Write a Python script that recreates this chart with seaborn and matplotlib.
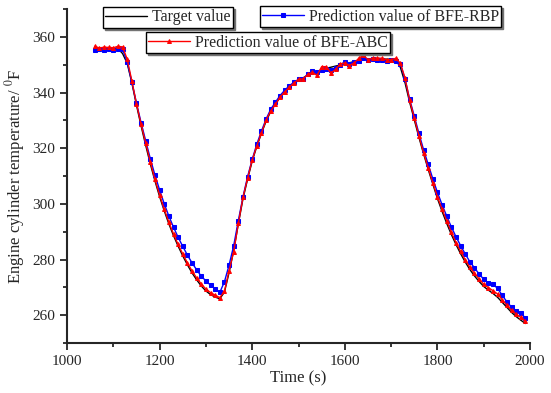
import numpy as np
import pandas as pd
import matplotlib
matplotlib.use("Agg")
import matplotlib.pyplot as plt
import seaborn as sns

# time axis (s), one sample every 10 s
time = list(range(1060, 2000, 10))

target = [355.8, 355.8, 355.9, 355.9, 356.0, 355.8, 354.0, 350.5, 343.5, 335.5,
          328.0, 321.0, 314.3, 308.2, 302.6, 297.5, 292.8, 288.6, 284.8, 281.3,
          278.1, 275.2, 272.7, 270.5, 268.7, 267.4, 266.5, 265.9, 268.3, 275.3,
          283.3, 292.8, 301.8, 308.9, 315.4, 320.7, 325.4, 329.7, 333.2, 335.9,
          338.2, 340.1, 341.8, 343.2, 344.4, 345.3, 346.2, 346.9, 347.5, 348.2,
          348.7, 349.1, 349.5, 349.9, 350.3, 350.7, 351.1, 351.5, 351.9, 352.0,
          352.0, 352.0, 352.0, 352.0, 352.0, 351.8, 349.0, 343.5, 336.5, 330.2,
          323.9, 318.0, 312.4, 307.1, 301.9, 297.3, 293.0, 289.0, 285.4, 282.1,
          279.1, 276.4, 274.1, 272.1, 270.3, 269.0, 267.8, 266.4, 264.6, 262.8,
          261.0, 259.5, 258.2, 257.0]

rbp = [355.2, 355.6, 355.4, 355.6, 355.3, 355.6, 355.5, 351.0, 343.8, 336.2,
       329.2, 322.6, 316.2, 310.3, 305.0, 300.0, 295.6, 291.6, 288.0, 284.7,
       281.6, 278.8, 276.3, 274.0, 272.3, 270.8, 269.5, 268.2, 272.0, 278.0,
       285.0, 294.0, 302.5, 309.8, 316.0, 321.5, 326.2, 330.5, 334.0, 336.5,
       338.9, 340.8, 342.4, 343.7, 344.7, 345.0, 346.6, 347.6, 347.2, 348.2,
       348.4, 348.0, 348.8, 350.0, 351.0, 350.2, 350.9, 351.5, 352.3, 351.6,
       351.9, 351.6, 351.8, 351.5, 351.6, 351.5, 350.3, 344.8, 337.6, 331.5,
       325.3, 319.5, 314.2, 309.0, 304.1, 299.7, 295.6, 291.7, 288.2, 285.0,
       282.0, 279.2, 277.0, 274.8, 272.9, 271.4, 271.1, 269.6, 267.1, 264.8,
       262.9, 261.6, 260.9, 258.9]

abc = [356.6, 356.0, 356.3, 356.2, 356.1, 356.6, 356.4, 352.0, 344.2, 336.0,
       328.6, 321.8, 315.0, 308.8, 303.2, 298.1, 293.4, 289.2, 285.4, 282.0,
       278.8, 275.9, 273.4, 271.2, 269.4, 268.1, 267.2, 266.3, 268.6, 276.0,
       282.8, 293.0, 302.3, 309.2, 315.8, 320.9, 325.5, 330.1, 333.4, 335.7,
       338.3, 340.2, 341.9, 343.4, 344.8, 344.9, 346.5, 347.2, 346.2, 349.3,
       349.3, 347.0, 348.3, 350.3, 350.6, 349.7, 350.6, 352.3, 353.4, 351.8,
       352.4, 352.4, 352.3, 351.8, 351.8, 352.3, 350.5, 345.2, 337.2, 330.9,
       324.5, 318.4, 312.9, 307.6, 302.5, 298.1, 293.9, 289.8, 286.1, 282.9,
       279.9, 277.2, 275.0, 273.0, 271.1, 269.9, 268.8, 267.6, 265.5, 263.6,
       261.7, 260.4, 259.2, 257.8]

sns.set_style("ticks")
plt.rcParams['font.family'] = ['Liberation Serif', 'DejaVu Serif']
plt.rcParams['mathtext.fontset'] = 'stix'

fig = plt.figure(figsize=(5.51, 3.93), dpi=100)
ax = fig.add_axes([0.1216, 0.1272, 0.8404, 0.8498])

sns.lineplot(x=time, y=target, color='black', lw=1.0, ax=ax)
sns.lineplot(x=time, y=rbp, color='blue', lw=1.0, marker='s', markersize=2.2,
             markeredgecolor='blue', ax=ax)
sns.lineplot(x=time, y=abc, color='red', lw=1.0, marker='^', markersize=2.8,
             markeredgecolor='red', ax=ax)

ax.set_xlim(1000, 2000)
ax.set_ylim(250, 370)
ax.set_xticks(np.arange(1000, 2001, 200))
ax.set_xticks(np.arange(1000, 2001, 100), minor=True)
ax.set_yticks(np.arange(260, 361, 20))
ax.set_yticks(np.arange(250, 371, 10), minor=True)
ax.tick_params(which='major', direction='out', length=5, width=1.3, labelsize=11)
ax.tick_params(which='minor', direction='out', length=3, width=1.3)
for s in ['left', 'bottom']:
    ax.spines[s].set_linewidth(1.5)
ax.spines['top'].set_visible(False)
ax.spines['right'].set_visible(False)

ax.set_xlabel('Time (s)', fontsize=12, labelpad=2)
ax.set_ylabel('Engine cylinder temperature/ $^{0}$F', fontsize=12, labelpad=4)

lines = ax.get_lines()
names = ['Target value', 'Prediction value of BFE-RBP', 'Prediction value of BFE-ABC']
anchors = [(0.187, 0.982), (0.472, 0.984), (0.265, 0.918)]
shadow = {'color': '0.45', 'alpha': 1, 'ox': 1.5, 'oy': -1.5}
for h, n, a in zip(lines[:3], names, anchors):
    leg = fig.legend([h], [n], loc='upper left', bbox_to_anchor=a,
                     bbox_transform=fig.transFigure, fontsize=11.5,
                     frameon=True, fancybox=False, shadow=shadow,
                     edgecolor='black', framealpha=1, borderpad=0.15,
                     handlelength=2.6, handletextpad=0.3, borderaxespad=0)
    leg.get_frame().set_linewidth(1.0)

fig.savefig('out.png', dpi=100)
